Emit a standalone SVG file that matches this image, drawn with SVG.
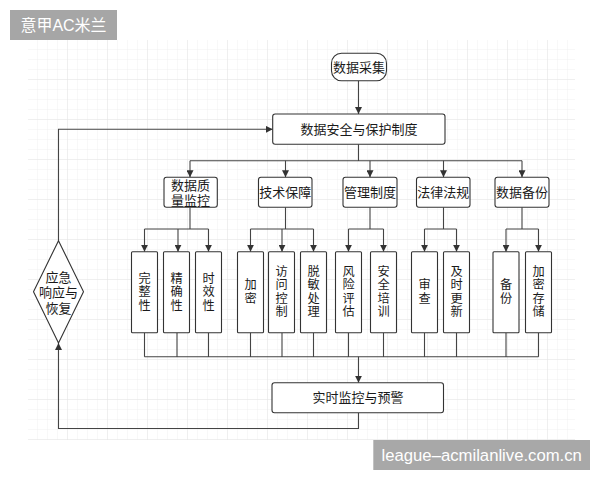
<svg xmlns="http://www.w3.org/2000/svg" width="600" height="480" viewBox="0 0 600 480">
<style>
.box{fill:#fff;stroke:#333;stroke-width:1.1}
.ln{fill:none;stroke:#444;stroke-width:1.1}
.t{font-family:"Liberation Sans","Noto Sans CJK SC",sans-serif;font-size:13px;fill:#1a1a1a;text-anchor:middle;dominant-baseline:central}
.v{font-family:"Liberation Sans","Noto Sans CJK SC",sans-serif;font-size:12.2px;fill:#1a1a1a;text-anchor:middle;dominant-baseline:central}
</style>
<defs>
<pattern id="gmin" width="10" height="10" patternUnits="userSpaceOnUse" x="28" y="40">
<path d="M10 0V10M0 10H10" fill="none" stroke="#f1f1f1" stroke-width="1"/>
</pattern>
<pattern id="gmaj" width="40" height="40" patternUnits="userSpaceOnUse" x="28" y="40">
<path d="M40 0V40M0 40H40" fill="none" stroke="#e6e6e6" stroke-width="1"/>
</pattern>
<marker id="ar" viewBox="0 0 10 10" refX="10" refY="5" markerWidth="7" markerHeight="7" markerUnits="userSpaceOnUse" orient="auto">
<path d="M0 0L10 5L0 10z" fill="#333"/>
</marker>
</defs>
<rect width="600" height="480" fill="#fff"/>
<rect x="28" y="40" width="547" height="400" fill="url(#gmin)"/>
<rect x="28" y="40" width="547" height="400" fill="url(#gmaj)"/>

<g id="title">
<rect x="10" y="10" width="107" height="30" fill="#a6a6a6"/>
<text x="63.5" y="25" font-family="'Liberation Sans','Noto Sans CJK SC',sans-serif" font-size="16" fill="#fff" text-anchor="middle" dominant-baseline="central">意甲AC米兰</text>
</g>

<g id="connectors">
<path class="ln" d="M358.5 80.7V114" marker-end="url(#ar)"/>
<path class="ln" d="M358.5 144.3V160.7M190 160.7H522"/>
<path class="ln" d="M190 160.7V177.3" marker-end="url(#ar)"/>
<path class="ln" d="M285.5 160.7V177.3" marker-end="url(#ar)"/>
<path class="ln" d="M370 160.7V177.3" marker-end="url(#ar)"/>
<path class="ln" d="M443.5 160.7V177.3" marker-end="url(#ar)"/>
<path class="ln" d="M522 160.7V177.3" marker-end="url(#ar)"/>
<path class="ln" d="M190 207.3V229M144.5 229H208.5"/>
<path class="ln" d="M144.5 229V251.7" marker-end="url(#ar)"/>
<path class="ln" d="M178 229V251.7" marker-end="url(#ar)"/>
<path class="ln" d="M208.5 229V251.7" marker-end="url(#ar)"/>
<path class="ln" d="M285.5 207.3V229M250.5 229H313.5"/>
<path class="ln" d="M250.5 229V251.7" marker-end="url(#ar)"/>
<path class="ln" d="M282 229V251.7" marker-end="url(#ar)"/>
<path class="ln" d="M313.5 229V251.7" marker-end="url(#ar)"/>
<path class="ln" d="M370 207.3V229M348.5 229H383.5"/>
<path class="ln" d="M348.5 229V251.7" marker-end="url(#ar)"/>
<path class="ln" d="M383.5 229V251.7" marker-end="url(#ar)"/>
<path class="ln" d="M443.5 207.3V229M424.5 229H456.5"/>
<path class="ln" d="M424.5 229V251.7" marker-end="url(#ar)"/>
<path class="ln" d="M456.5 229V251.7" marker-end="url(#ar)"/>
<path class="ln" d="M522 207.3V229M506 229H538.5"/>
<path class="ln" d="M506 229V251.7" marker-end="url(#ar)"/>
<path class="ln" d="M538.5 229V251.7" marker-end="url(#ar)"/>
<path class="ln" d="M144.5 332.7V356.7M177 332.7V356.7M208.5 332.7V356.7M250.5 332.7V356.7M282 332.7V356.7M313.5 332.7V356.7M348.5 332.7V356.7M383.5 332.7V356.7M424.5 332.7V356.7M456.5 332.7V356.7M506 332.7V356.7M538.5 332.7V356.7M144.5 356.7H538.5"/>
<path class="ln" d="M358.5 356.7V382.7" marker-end="url(#ar)"/>
<path class="ln" d="M358.5 412.7V428.5H58.5V343" marker-end="url(#ar)"/>
<path class="ln" d="M58.5 240.7V129.3H272.7" marker-end="url(#ar)"/>
</g>

<g id="n-collect">
<rect class="box" x="331.5" y="53.3" width="55" height="27.4" rx="10"/>
<text class="t" x="359" y="67">数据采集</text>
</g>
<g id="n-main">
<rect class="box" x="272.7" y="114" width="172.3" height="30.3" rx="2.5"/>
<text class="t" x="359" y="129.2">数据安全与保护制度</text>
</g>
<g id="n-quality">
<rect class="box" x="164" y="177.3" width="53.3" height="30" rx="2.5"/>
<text class="t" x="190.6" y="185">数据质</text>
<text class="t" x="190.6" y="200.5">量监控</text>
</g>
<g id="n-tech">
<rect class="box" x="258.5" y="177.3" width="53.5" height="30" rx="2.5"/>
<text class="t" x="285.3" y="192.3">技术保障</text>
</g>
<g id="n-manage">
<rect class="box" x="343" y="177.3" width="54" height="30" rx="2.5"/>
<text class="t" x="370" y="192.3">管理制度</text>
</g>
<g id="n-law">
<rect class="box" x="416.5" y="177.3" width="53.5" height="30" rx="2.5"/>
<text class="t" x="443.3" y="192.3">法律法规</text>
</g>
<g id="n-backup">
<rect class="box" x="495" y="177.3" width="54" height="30" rx="2.5"/>
<text class="t" x="522" y="192.3">数据备份</text>
</g>

<g id="l-complete">
<rect class="box" x="131.5" y="251.7" width="26" height="81" rx="1"/>
<text class="v"><tspan x="144.5" y="278.5">完</tspan><tspan x="144.5" y="292">整</tspan><tspan x="144.5" y="305.5">性</tspan></text>
</g>
<g id="l-accurate">
<rect class="box" x="163.5" y="251.7" width="26" height="81" rx="1"/>
<text class="v"><tspan x="176.5" y="278.5">精</tspan><tspan x="176.5" y="292">确</tspan><tspan x="176.5" y="305.5">性</tspan></text>
</g>
<g id="l-timely">
<rect class="box" x="195.5" y="251.7" width="26" height="81" rx="1"/>
<text class="v"><tspan x="208.5" y="278.5">时</tspan><tspan x="208.5" y="292">效</tspan><tspan x="208.5" y="305.5">性</tspan></text>
</g>
<g id="l-encrypt">
<rect class="box" x="237.5" y="251.7" width="26" height="81" rx="1"/>
<text class="v"><tspan x="250.5" y="285.3">加</tspan><tspan x="250.5" y="298.8">密</tspan></text>
</g>
<g id="l-access">
<rect class="box" x="268.5" y="251.7" width="26" height="81" rx="1"/>
<text class="v"><tspan x="281.5" y="271.8">访</tspan><tspan x="281.5" y="285.3">问</tspan><tspan x="281.5" y="298.8">控</tspan><tspan x="281.5" y="312.3">制</tspan></text>
</g>
<g id="l-mask">
<rect class="box" x="300.5" y="251.7" width="26" height="81" rx="1"/>
<text class="v"><tspan x="313.5" y="271.8">脱</tspan><tspan x="313.5" y="285.3">敏</tspan><tspan x="313.5" y="298.8">处</tspan><tspan x="313.5" y="312.3">理</tspan></text>
</g>
<g id="l-risk">
<rect class="box" x="335.5" y="251.7" width="26" height="81" rx="1"/>
<text class="v"><tspan x="348.5" y="271.8">风</tspan><tspan x="348.5" y="285.3">险</tspan><tspan x="348.5" y="298.8">评</tspan><tspan x="348.5" y="312.3">估</tspan></text>
</g>
<g id="l-train">
<rect class="box" x="370.5" y="251.7" width="26" height="81" rx="1"/>
<text class="v"><tspan x="383.5" y="271.8">安</tspan><tspan x="383.5" y="285.3">全</tspan><tspan x="383.5" y="298.8">培</tspan><tspan x="383.5" y="312.3">训</tspan></text>
</g>
<g id="l-audit">
<rect class="box" x="411.5" y="251.7" width="26" height="81" rx="1"/>
<text class="v"><tspan x="424.5" y="285.3">审</tspan><tspan x="424.5" y="298.8">查</tspan></text>
</g>
<g id="l-update">
<rect class="box" x="443.5" y="251.7" width="26" height="81" rx="1"/>
<text class="v"><tspan x="456.5" y="271.8">及</tspan><tspan x="456.5" y="285.3">时</tspan><tspan x="456.5" y="298.8">更</tspan><tspan x="456.5" y="312.3">新</tspan></text>
</g>
<g id="l-bak">
<rect class="box" x="493" y="251.7" width="26" height="81" rx="1"/>
<text class="v"><tspan x="506" y="285.3">备</tspan><tspan x="506" y="298.8">份</tspan></text>
</g>
<g id="l-encstore">
<rect class="box" x="525.5" y="251.7" width="26" height="81" rx="1"/>
<text class="v"><tspan x="538.5" y="271.8">加</tspan><tspan x="538.5" y="285.3">密</tspan><tspan x="538.5" y="298.8">存</tspan><tspan x="538.5" y="312.3">储</tspan></text>
</g>

<g id="n-monitor">
<rect class="box" x="272" y="382.7" width="171.5" height="30" rx="2.5"/>
<text class="t" x="358" y="397.7">实时监控与预警</text>
</g>
<g id="n-emergency">
<polygon class="box" points="58.5,240.7 83.5,291.8 58.5,343 33.5,291.8"/>
<text class="t" x="58.5" y="277" font-size="12.5">应急</text>
<text class="t" x="58.5" y="292.5" font-size="12.5">响应与</text>
<text class="t" x="58.5" y="308" font-size="12.5">恢复</text>
</g>

<g id="watermark">
<rect x="373.3" y="440" width="216.7" height="30" fill="#a8a8a8"/>
<text x="481.7" y="455" font-family="'Liberation Sans',Arial,sans-serif" font-size="16.7" fill="#fff" text-anchor="middle" dominant-baseline="central">league–acmilanlive.com.cn</text>
</g>
</svg>
